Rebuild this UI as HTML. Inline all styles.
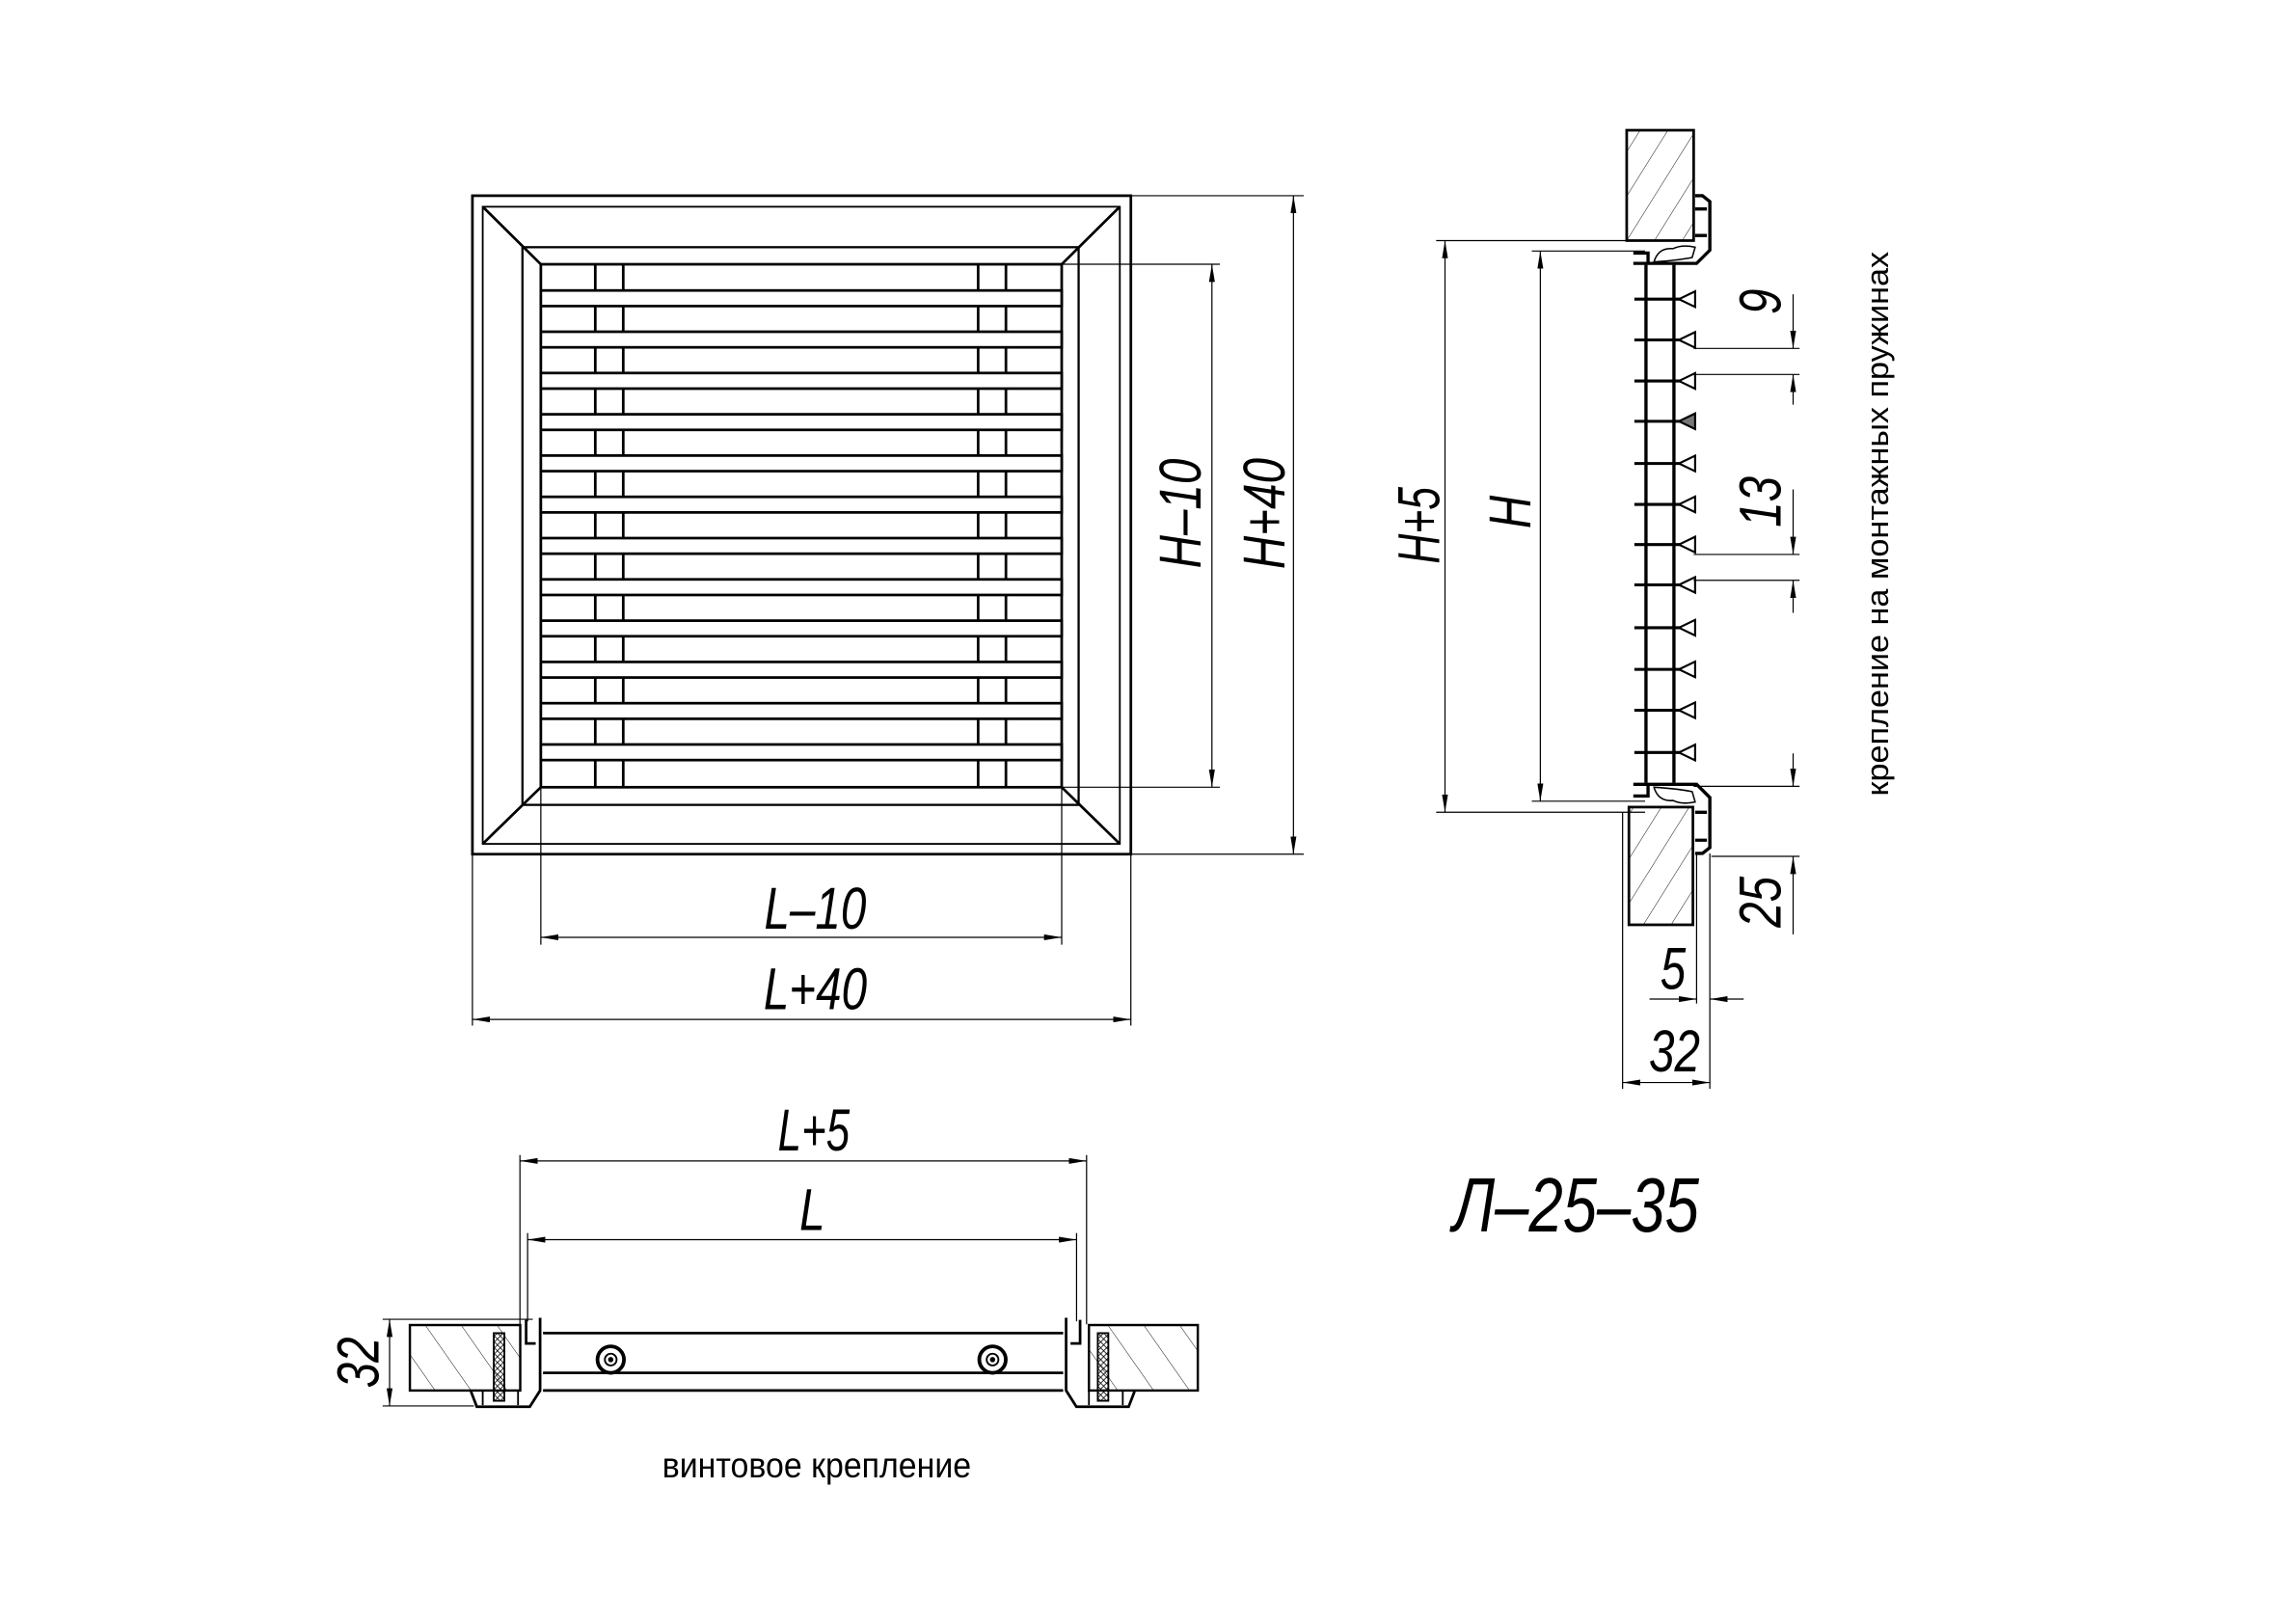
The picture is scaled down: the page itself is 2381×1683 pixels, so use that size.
<!DOCTYPE html>
<html><head><meta charset="utf-8"><style>
html,body{margin:0;padding:0;background:#fff;}
svg{display:block;}
text{font-family:"Liberation Sans","DejaVu Sans",sans-serif;fill:#000;}
</style></head><body>
<svg width="2381" height="1683" viewBox="0 0 1560.3 1103" xmlns="http://www.w3.org/2000/svg">
<defs>
<marker id="a" viewBox="0 0 12 4" refX="12" refY="2" markerWidth="12" markerHeight="4" markerUnits="userSpaceOnUse" orient="auto-start-reverse"><path d="M0,0 L12,2 L0,4 z" fill="#000"/></marker>
<pattern id="h" patternUnits="userSpaceOnUse" width="16" height="16" patternTransform="rotate(32)"><line x1="0" y1="0" x2="0" y2="16" stroke="#000" stroke-width="0.6"/></pattern>
<pattern id="h2" patternUnits="userSpaceOnUse" width="20" height="20" patternTransform="rotate(-35)"><line x1="0" y1="0" x2="0" y2="20" stroke="#000" stroke-width="0.6"/></pattern>
<pattern id="z" patternUnits="userSpaceOnUse" width="4" height="4"><path d="M0,0 L4,4 M4,0 L0,4" stroke="#000" stroke-width="0.5"/></pattern>
</defs>
<rect width="1560.3" height="1103" fill="#fff"/>

<!-- FRONT VIEW -->
<g fill="none" stroke="#000" stroke-width="1.8">
<rect x="321" y="133" width="447.5" height="447.5"/>
<rect x="328" y="140.5" width="433" height="433" stroke-width="1.2"/>
<rect x="355" y="168" width="378" height="379" stroke-width="1.5"/>
<rect x="367.5" y="179.6" width="354" height="355.4"/>
<line x1="328" y1="140.5" x2="367.5" y2="179.6"/>
<line x1="761" y1="140.5" x2="721.5" y2="179.6"/>
<line x1="328" y1="573.5" x2="367.5" y2="535"/>
<line x1="761" y1="573.5" x2="721.5" y2="535"/>
<line x1="404.5" y1="179.6" x2="404.5" y2="535"/>
<line x1="423.5" y1="179.6" x2="423.5" y2="535"/>
<line x1="664.7" y1="179.6" x2="664.7" y2="535"/>
<line x1="683.6" y1="179.6" x2="683.6" y2="535"/>
</g>
<g fill="#fff" stroke="#000" stroke-width="1.8">
<rect x="367.5" y="197.4" width="354" height="10.6"/>
<rect x="367.5" y="225.45" width="354" height="10.6"/>
<rect x="367.5" y="253.5" width="354" height="10.6"/>
<rect x="367.5" y="281.55" width="354" height="10.6"/>
<rect x="367.5" y="309.6" width="354" height="10.6"/>
<rect x="367.5" y="337.65" width="354" height="10.6"/>
<rect x="367.5" y="365.7" width="354" height="10.6"/>
<rect x="367.5" y="393.75" width="354" height="10.6"/>
<rect x="367.5" y="421.8" width="354" height="10.6"/>
<rect x="367.5" y="449.85" width="354" height="10.6"/>
<rect x="367.5" y="477.9" width="354" height="10.6"/>
<rect x="367.5" y="505.95" width="354" height="10.6"/>
</g>
<g stroke="#000" stroke-width="0.8" fill="none">
<line x1="721.5" y1="179.6" x2="829" y2="179.6"/>
<line x1="721.5" y1="535" x2="829" y2="535"/>
<line x1="768.5" y1="133" x2="886" y2="133"/>
<line x1="768.5" y1="580.5" x2="886" y2="580.5"/>
<line x1="823.6" y1="179.6" x2="823.6" y2="535" marker-start="url(#a)" marker-end="url(#a)"/>
<line x1="879" y1="133" x2="879" y2="580.5" marker-start="url(#a)" marker-end="url(#a)"/>
<line x1="367.5" y1="535" x2="367.5" y2="642"/>
<line x1="721.5" y1="535" x2="721.5" y2="642"/>
<line x1="321" y1="580.5" x2="321" y2="697"/>
<line x1="768.5" y1="580.5" x2="768.5" y2="697"/>
<line x1="367.5" y1="637" x2="721.5" y2="637" marker-start="url(#a)" marker-end="url(#a)"/>
<line x1="321" y1="692.8" x2="768.5" y2="692.8" marker-start="url(#a)" marker-end="url(#a)"/>
</g>
<g font-size="40" font-style="italic" text-anchor="middle">
<text transform="translate(554,631) scale(0.78,1)">L–10</text>
<text transform="translate(554,686) scale(0.78,1)">L+40</text>
<text transform="translate(816,349) rotate(-90) scale(0.78,1)">H–10</text>
<text transform="translate(873,349) rotate(-90) scale(0.78,1)">H+40</text>
</g>

<!-- SIDE VIEW -->
<rect x="1105.5" y="88.5" width="45.5" height="75" fill="url(#h)" stroke="#000" stroke-width="1.8"/>
<rect x="1107" y="548.5" width="43.5" height="80" fill="url(#h)" stroke="#000" stroke-width="1.8"/>
<g fill="none" stroke="#000" stroke-width="2.2">
<line x1="1118.6" y1="180" x2="1118.6" y2="532"/>
<line x1="1137.6" y1="180" x2="1137.6" y2="532"/>
<path d="M1110,179 L1153,179 L1162,170 L1162,137 L1157,133 L1152,133 M1152,142 L1160,142 M1152,160 L1160,160"/>
<path d="M1110,172 L1120,172 L1120,179"/>
<path d="M1110,533 L1153,533 L1162,542 L1162,576 L1157,580 L1152,580 M1152,571 L1160,571 M1152,552 L1160,552"/>
<path d="M1110,541 L1120,541 L1120,534"/>
</g>
<g fill="none" stroke="#000" stroke-width="1">
<path d="M1124,178 Q1127,168 1137,169 Q1143,166 1152,168 L1150,175 Q1140,177 1124,178z"/>
<path d="M1124,535 Q1127,545 1137,544 Q1143,547 1152,545 L1150,538 Q1140,536 1124,535z"/>
</g>
<g stroke="#000" stroke-width="2">
<line x1="1110.7" y1="203.3" x2="1142" y2="203.3"/><line x1="1110.7" y1="231" x2="1142" y2="231"/>
<line x1="1110.7" y1="258.9" x2="1142" y2="258.9"/><line x1="1110.7" y1="286.3" x2="1142" y2="286.3"/>
<line x1="1110.7" y1="315" x2="1142" y2="315"/><line x1="1110.7" y1="342.8" x2="1142" y2="342.8"/>
<line x1="1110.7" y1="370.1" x2="1142" y2="370.1"/><line x1="1110.7" y1="397.5" x2="1142" y2="397.5"/>
<line x1="1110.7" y1="426.6" x2="1142" y2="426.6"/><line x1="1110.7" y1="454.9" x2="1142" y2="454.9"/>
<line x1="1110.7" y1="482.7" x2="1142" y2="482.7"/><line x1="1110.7" y1="511.4" x2="1142" y2="511.4"/>
</g>
<g fill="#fff" stroke="#000" stroke-width="1.4">
<path d="M1141,203.3 L1152,198 L1152,208.6z"/><path d="M1141,231 L1152,225.7 L1152,236.3z"/>
<path d="M1141,258.9 L1152,253.6 L1152,264.2z"/><path d="M1141,286.3 L1152,281 L1152,291.6z" fill="#777"/>
<path d="M1141,315 L1152,309.7 L1152,320.3z"/><path d="M1141,342.8 L1152,337.5 L1152,348.1z"/>
<path d="M1141,370.1 L1152,364.8 L1152,375.4z"/><path d="M1141,397.5 L1152,392.2 L1152,402.8z"/>
<path d="M1141,426.6 L1152,421.3 L1152,431.9z"/><path d="M1141,454.9 L1152,449.6 L1152,460.2z"/>
<path d="M1141,482.7 L1152,477.4 L1152,488z"/><path d="M1141,511.4 L1152,506.1 L1152,516.7z"/>
</g>
<g stroke="#000" stroke-width="0.8" fill="none">
<line x1="976" y1="163.5" x2="1118" y2="163.5"/>
<line x1="976" y1="552" x2="1118" y2="552"/>
<line x1="1041" y1="170.6" x2="1118" y2="170.6"/>
<line x1="1041" y1="544.5" x2="1118" y2="544.5"/>
<line x1="982" y1="163.5" x2="982" y2="552" marker-start="url(#a)" marker-end="url(#a)"/>
<line x1="1046.8" y1="170.6" x2="1046.8" y2="544.5" marker-start="url(#a)" marker-end="url(#a)"/>
<line x1="1151" y1="236.8" x2="1223" y2="236.8"/>
<line x1="1151" y1="254.5" x2="1223" y2="254.5"/>
<line x1="1218.6" y1="200" x2="1218.6" y2="236.8" marker-end="url(#a)"/>
<line x1="1218.6" y1="275" x2="1218.6" y2="254.5" marker-end="url(#a)"/>
<line x1="1151" y1="376.8" x2="1223" y2="376.8"/>
<line x1="1151" y1="394.4" x2="1223" y2="394.4"/>
<line x1="1218.6" y1="332.6" x2="1218.6" y2="376.8" marker-end="url(#a)"/>
<line x1="1218.6" y1="416.5" x2="1218.6" y2="394.4" marker-end="url(#a)"/>
<line x1="1151" y1="534.4" x2="1223" y2="534.4"/>
<line x1="1163" y1="582" x2="1223" y2="582"/>
<line x1="1218.6" y1="512" x2="1218.6" y2="534.4" marker-end="url(#a)"/>
<line x1="1218.6" y1="635" x2="1218.6" y2="582" marker-end="url(#a)"/>
<line x1="1153" y1="580" x2="1153" y2="682"/>
<line x1="1162" y1="580" x2="1162" y2="740"/>
<line x1="1102.7" y1="552" x2="1102.7" y2="740"/>
<line x1="1121" y1="679" x2="1153" y2="679" marker-end="url(#a)"/>
<line x1="1185" y1="679" x2="1162" y2="679" marker-end="url(#a)"/>
<line x1="1102.7" y1="735.7" x2="1162" y2="735.7" marker-start="url(#a)" marker-end="url(#a)"/>
</g>
<g font-size="40" font-style="italic" text-anchor="middle">
<text transform="translate(978,357) rotate(-90) scale(0.7,1)">H+5</text>
<text transform="translate(1040,348) rotate(-90) scale(0.78,1)">H</text>
<text transform="translate(1210,205) rotate(-90) scale(0.78,1)">9</text>
<text transform="translate(1210,341) rotate(-90) scale(0.78,1)">13</text>
<text transform="translate(1210,613) rotate(-90) scale(0.78,1)">25</text>
<text transform="translate(1137,672) scale(0.78,1)">5</text>
<text transform="translate(1138,728) scale(0.78,1)">32</text>
</g>
<text transform="translate(1283,356) rotate(-90)" font-size="21" text-anchor="middle" textLength="370" lengthAdjust="spacingAndGlyphs">крепление на монтажных пружинах</text>

<!-- BOTTOM VIEW -->
<rect x="278.5" y="900.5" width="75" height="44.5" fill="url(#h2)" stroke="#000" stroke-width="1.6"/>
<rect x="740" y="900.5" width="74" height="44.5" fill="url(#h2)" stroke="#000" stroke-width="1.6"/>
<g fill="none" stroke="#000" stroke-width="1.8">
<line x1="369" y1="906" x2="722.5" y2="906"/>
<line x1="369" y1="933" x2="722.5" y2="933"/>
<line x1="369" y1="945" x2="722.5" y2="945"/>
<path d="M367,895.6 L367,945 L360,956 L324,956 L320,945.6"/>
<path d="M357.5,897 L357.5,913 L364,913"/>
<path d="M724.5,895.6 L724.5,945 L731.5,956 L767,956 L771,945.6"/>
<path d="M734,897 L734,913 L727.5,913"/>
<path d="M328,945.6 L328,955 M352,945.6 L352,955 M740,945.6 L740,955 M763,945.6 L763,955" stroke-width="1.2"/>
</g>
<rect x="335.5" y="906" width="7.2" height="46" fill="url(#z)" stroke="#000" stroke-width="1.2"/>
<rect x="746" y="906" width="7.2" height="46" fill="url(#z)" stroke="#000" stroke-width="1.2"/>
<g stroke="#000" fill="none">
<circle cx="415" cy="924" r="9" stroke-width="2.5"/><circle cx="415" cy="924" r="4" stroke-width="1.2"/><circle cx="415" cy="924" r="1.3" fill="#000"/>
<circle cx="674.5" cy="924" r="9" stroke-width="2.5"/><circle cx="674.5" cy="924" r="4" stroke-width="1.2"/><circle cx="674.5" cy="924" r="1.3" fill="#000"/>
</g>
<g stroke="#000" stroke-width="0.8" fill="none">
<line x1="353.3" y1="785" x2="353.3" y2="900"/>
<line x1="738.4" y1="785" x2="738.4" y2="900"/>
<line x1="358.5" y1="838" x2="358.5" y2="898"/>
<line x1="731.6" y1="838" x2="731.6" y2="898"/>
<line x1="353.3" y1="789" x2="738.4" y2="789" marker-start="url(#a)" marker-end="url(#a)"/>
<line x1="358.5" y1="842.5" x2="731.6" y2="842.5" marker-start="url(#a)" marker-end="url(#a)"/>
<line x1="260" y1="896.6" x2="362" y2="896.6"/>
<line x1="260" y1="955.5" x2="322" y2="955.5"/>
<line x1="264.7" y1="896.6" x2="264.7" y2="955.5" marker-start="url(#a)" marker-end="url(#a)"/>
</g>
<g font-size="40" font-style="italic" text-anchor="middle">
<text transform="translate(553,782) scale(0.72,1)">L+5</text>
<text transform="translate(552,836) scale(0.78,1)">L</text>
<text transform="translate(257,926) rotate(-90) scale(0.78,1)">32</text>
</g>
<text x="555" y="1004" font-size="24" text-anchor="middle" textLength="210" lengthAdjust="spacingAndGlyphs">винтовое крепление</text>

<text transform="translate(1071,837) scale(0.8,1)" font-size="52" font-style="italic" text-anchor="middle">Л–25–35</text>
</svg>
</body></html>
